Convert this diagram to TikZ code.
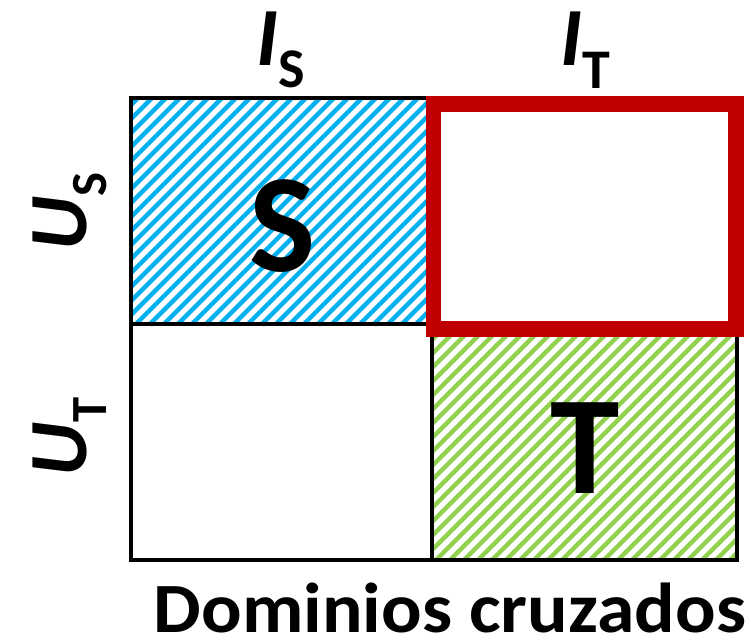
\documentclass[tikz,border=0pt]{standalone}
\usepackage{fontspec}
\setmainfont{Carlito}
\usepackage{xcolor}
\usepackage{tikz}
\usetikzlibrary{positioning}

\definecolor{srcblue}{HTML}{00B0F0}
\definecolor{tgtgreen}{HTML}{92D050}
\definecolor{crossred}{HTML}{C00000}

% axis label: big bold italic letter with an upright bold index
\newcommand{\axlbl}[3]{{\fontsize{62}{62}\selectfont\bfseries\itshape #1}%
  {\fontsize{#3}{#3}\selectfont\bfseries\upshape\raisebox{-0.4em}{#2}}}

\tikzset{
  stripeS/.style={srcblue, line width=3.2pt},
  stripeT/.style={tgtgreen, line width=3.2pt},
  gridline/.style={black, line width=2.3pt},
  crossbox/.style={crossred, line width=11.6pt},
  blocklbl/.style={font=\fontsize{105}{105}\selectfont\bfseries\upshape},
  captext/.style={font=\fontsize{53}{53}\selectfont\bfseries\upshape, inner sep=0pt}
}

\begin{document}
\begin{tikzpicture}[x=0.75pt, y=-0.75pt]
    \useasboundingbox (0,0) rectangle (751,642);

    % source block
    \begin{scope}
        \clip (131,98) rectangle (432,324);
        \foreach \k in {0,14,...,560}
            \draw[stripeS] (\k-130,324) -- ++(300,-300);
    \end{scope}
    % target block
    \begin{scope}
        \clip (432,324) rectangle (737,560);
        \foreach \k in {0,14,...,560}
            \draw[stripeT] (\k+170,560) -- ++(300,-300);
    \end{scope}

    % grid
    \draw[gridline] (131,98) rectangle (737,560);
    \draw[gridline] (432,98) -- (432,560);
    \draw[gridline] (131,324) -- (737,324);

    % cross domain block
    \draw[crossbox] (433.5,104) rectangle (736,329);

    \node[blocklbl] (dS) at (283,226) {S};
    \node[blocklbl] (dT) at (585,448) {T};

    \node (lIS) at (281,50) {\axlbl{I}{S}{42}};
    \node (lIT) at (585,50) {\axlbl{I}{T}{42}};
    \node[rotate=90] (lUS) at (70,212) {\axlbl{U}{S}{38}};
    \node[rotate=90] (lUT) at (70,437) {\axlbl{U}{T}{38}};

    \node[captext, anchor=base] (cap) at (450,632) {\scalebox{1.07}[1]{Dominios cruzados}};
\end{tikzpicture}
\end{document}
